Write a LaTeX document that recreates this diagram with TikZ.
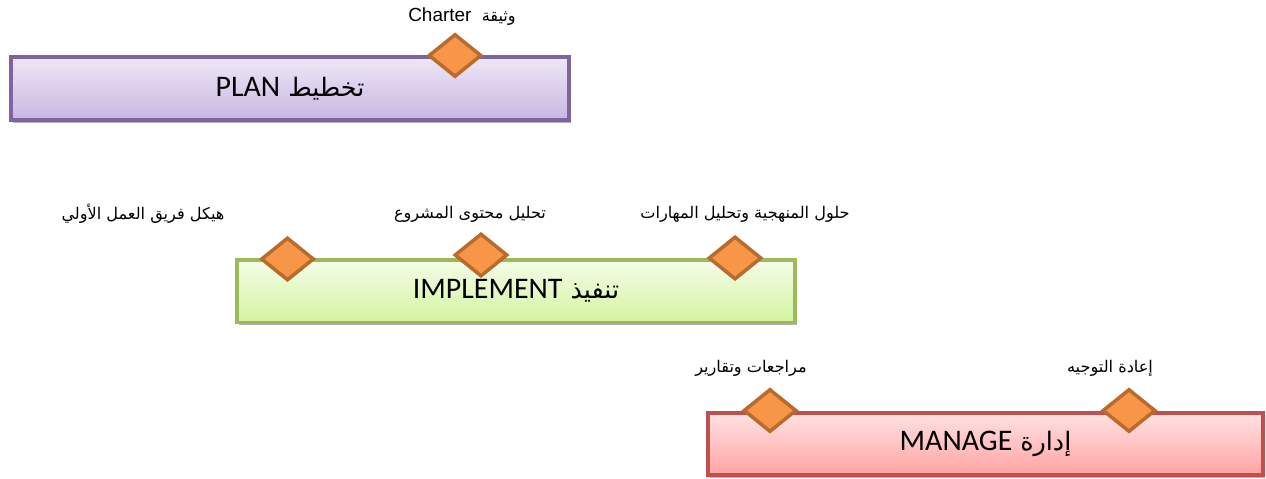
\documentclass[tikz,border=0pt]{standalone}
\usepackage{fontspec}
\setmainfont{Liberation Sans}
\newfontfamily\arabicfont[Script=Arabic,Scale=0.85]{DejaVu Sans}
\newfontfamily\calfont{Carlito}
\TeXXeTstate=1
\usepackage{xcolor}
\usetikzlibrary{positioning,shapes.geometric,shadows}
\definecolor{planedge}{HTML}{8064A2}
\definecolor{plantop}{HTML}{EEE7F7}
\definecolor{planbot}{HTML}{C8B7E2}
\definecolor{impledge}{HTML}{9BBB59}
\definecolor{impltop}{HTML}{F5FDEA}
\definecolor{implbot}{HTML}{D3F39E}
\definecolor{manedge}{HTML}{C0504D}
\definecolor{mantop}{HTML}{FFE2E2}
\definecolor{manbot}{HTML}{FFA3A3}
\definecolor{gemfill}{HTML}{F79646}
\definecolor{gemedge}{HTML}{B96B2E}

\begin{document}
\begin{tikzpicture}[
  x=0.02cm, y=-0.02cm,
  phase/.style={draw, line width=2.2pt, inner sep=0pt,
    minimum width=11.16cm, minimum height=1.25cm,
    general shadow={fill=black!30, shadow xshift=1.2pt, shadow yshift=-1.6pt}},
  planbox/.style={phase, draw=planedge, top color=plantop, bottom color=planbot},
  implbox/.style={phase, draw=impledge, top color=impltop, bottom color=implbot},
  manbox/.style={phase, draw=manedge, top color=mantop, bottom color=manbot, minimum width=11.1cm},
  gem/.style={diamond, draw=gemedge, fill=gemfill, line width=2pt, inner sep=0pt,
    minimum width=1.06cm, minimum height=0.86cm},
  title/.style={font=\fontsize{17}{20}\selectfont},
  note/.style={font=\fontsize{10.8}{13}\selectfont}
]
\useasboundingbox (0,0) rectangle (1266,478);

% phases
\node[planbox] (plan) at (290,88.5) {};
\node[implbox] (impl) at (516,291.25) {};
\node[manbox] (manage) at (985.5,444) {};

\node[title] (plantxt) at (plan) {\arabicfont\beginR تخطيط \beginL{\calfont PLAN}\endL\endR};
\node[title] (impltxt) at (impl) {\arabicfont\beginR تنفيذ \beginL{\calfont IMPLEMENT}\endL\endR};
\node[title] (mantxt) at (manage) {\arabicfont\beginR إدارة \beginL{\calfont MANAGE}\endL\endR};

% milestones
\node[gem] (charter) at (455,55.5) {};
\node[gem] (team) at (287.5,259) {};
\node[gem] (content) at (481,255) {};
\node[gem] (skills) at (735,258) {};
\node[gem] (reviews) at (770,410.5) {};
\node[gem] (redirect) at (1129,410.5) {};

% milestone labels
\node[note] (charterlbl) at (462,17) {\arabicfont\beginR وثيقة \ \beginL{\rmfamily Charter}\endL\endR};
\node[note] (teamlbl) at (143,214) {\arabicfont\beginR هيكل فريق العمل الأولي\endR};
\node[note] (contentlbl) at (470,214) {\arabicfont\beginR تحليل محتوى المشروع\endR};
\node[note] (skillslbl) at (745,214) {\arabicfont\beginR حلول المنهجية وتحليل المهارات\endR};
\node[note] (reviewslbl) at (751,368) {\arabicfont\beginR مراجعات وتقارير\endR};
\node[note] (redirectlbl) at (1110,368) {\arabicfont\beginR إعادة التوجيه\endR};
\end{tikzpicture}
\end{document}
